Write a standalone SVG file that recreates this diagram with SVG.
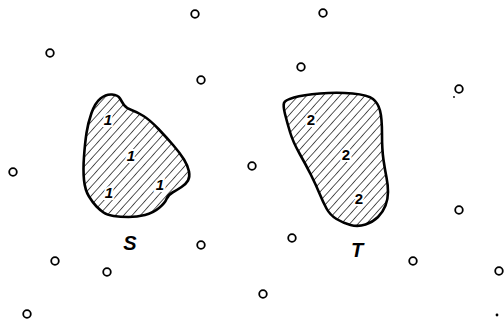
<svg xmlns="http://www.w3.org/2000/svg" width="504" height="320" viewBox="0 0 504 320">
<style>
.pt{fill:none;stroke:#000;stroke-width:1.8}
.dot{fill:#000}
.blob{fill:url(#hatch);stroke:#000;stroke-width:2.6;stroke-linejoin:round}
.num{font-family:"Liberation Sans",Arial,sans-serif;font-size:15px;font-weight:bold;text-anchor:middle;fill:#000;stroke:#fff;stroke-width:4;paint-order:stroke}
.it{font-style:italic}
.lbl{font-family:"Liberation Sans",Arial,sans-serif;font-style:italic;font-weight:bold;text-anchor:middle;fill:#000}
</style>
<defs>
<pattern id="hatch" patternUnits="userSpaceOnUse" width="6.2" height="6.2" patternTransform="rotate(42)">
<rect width="6.2" height="6.2" fill="#fff"/>
<line x1="0" y1="0" x2="0" y2="6.2" stroke="#000" stroke-width="1.3"/>
</pattern>
</defs>
<rect width="504" height="320" fill="#fff"/>
<g id="connectors"/>
<g id="S">
<path class="blob" d="M100.5,98.5 Q106,94 112,94.5 Q118,95 120,98.5 Q122,102 124,105 Q126,108 131.5,110 Q137,112 143.5,116 Q150,120 158.5,129 Q167,138 173.5,145.5 Q180,153 184,159.5 Q188,166 189,171.5 Q190,177 188,180.5 Q186,184 181.5,187 Q177,190 172.5,192.5 Q168,195 166.5,199 Q165,203 159,208 Q153,213 145,215 Q137,217 128.5,217 Q120,217 113.5,216 Q107,215 103.5,212.5 Q100,210 96.5,206.5 Q93,203 89,196.5 Q85,190 84,180 Q83,170 84,156.5 Q85,143 86.5,133 Q88,123 91.5,113 Q95,103 100.5,98.5 Z"/>
<text class="num it" x="108" y="125">1</text>
<text class="num it" x="131" y="161">1</text>
<text class="num it" x="109" y="198">1</text>
<text class="num it" x="160" y="190">1</text>
<text class="lbl" x="130" y="250" font-size="20">S</text>
</g>
<g id="T">
<path class="blob" d="M294,97.5 Q303,95 320,93.5 Q337,92 352.5,93.5 Q368,95 373,99 Q378,103 380,110.5 Q382,118 382,134 Q382,150 383.5,160 Q385,170 386.5,177.5 Q388,185 388,192 Q388,199 385.5,205.5 Q383,212 378,217 Q373,222 365.5,224.5 Q358,227 350.5,225 Q343,223 336.5,219 Q330,215 326.5,208.5 Q323,202 319.5,193.5 Q316,185 311,175 Q306,165 299.5,153.5 Q293,142 290,132 Q287,122 285,114 Q283,106 284,103 Q285,100 294,97.5 Z"/>
<text class="num" x="311" y="125">2</text>
<text class="num" x="346" y="160">2</text>
<text class="num" x="359" y="204">2</text>
<text class="lbl" x="357" y="257" font-size="20">T</text>
</g>
<g id="points">
<circle id="p1" class="pt" cx="195" cy="14" r="3.8"/>
<circle id="p2" class="pt" cx="323" cy="13" r="3.8"/>
<circle id="p3" class="pt" cx="50" cy="53" r="3.8"/>
<circle id="p4" class="pt" cx="201" cy="80" r="3.8"/>
<circle id="p5" class="pt" cx="301" cy="67" r="3.8"/>
<circle id="p6" class="pt" cx="459" cy="89" r="3.8"/>
<circle id="p7" class="pt" cx="13" cy="172" r="3.8"/>
<circle id="p8" class="pt" cx="252" cy="166" r="3.8"/>
<circle id="p9" class="pt" cx="459" cy="210" r="3.8"/>
<circle id="p10" class="pt" cx="292" cy="238" r="3.8"/>
<circle id="p11" class="pt" cx="201" cy="245" r="3.8"/>
<circle id="p12" class="pt" cx="55" cy="261" r="3.8"/>
<circle id="p13" class="pt" cx="107" cy="272" r="3.8"/>
<circle id="p14" class="pt" cx="413" cy="261" r="3.8"/>
<circle id="p15" class="pt" cx="499" cy="271" r="3.8"/>
<circle id="p16" class="pt" cx="263" cy="294" r="3.8"/>
<circle id="p17" class="pt" cx="27" cy="314" r="3.8"/>
<circle class="dot" cx="454" cy="97" r="0.9"/>
<circle class="dot" cx="497" cy="315" r="1.4"/>
</g>
</svg>
